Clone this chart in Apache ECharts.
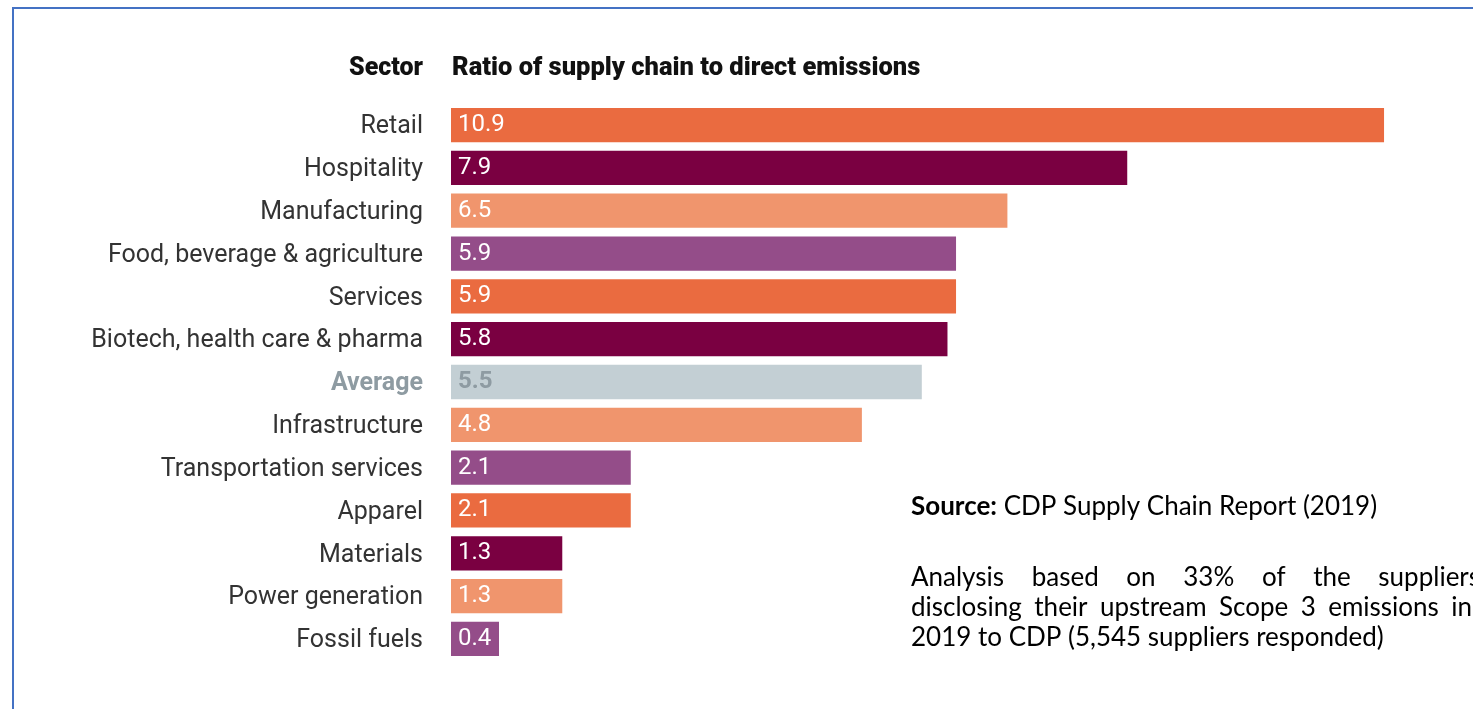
<!DOCTYPE html>
<html>
<head>
<meta charset="utf-8">
<script src="https://cdn.jsdelivr.net/npm/echarts@6/dist/echarts.min.js"></script>
<style>
html,body{margin:0;padding:0;background:#fff;}
#chart{width:1473px;height:709px;}
</style>
</head>
<body>
<div id="chart"></div>
<script>
const sectors = ["Retail","Hospitality","Manufacturing","Food, beverage & agriculture","Services","Biotech, health care & pharma","Average","Infrastructure","Transportation services","Apparel","Materials","Power generation","Fossil fuels"];
const ratios = [10.9, 7.9, 6.5, 5.9, 5.9, 5.8, 5.5, 4.8, 2.1, 2.1, 1.3, 1.3, 0.4];
const barColors = ["#EA6B40","#7A0041","#F0956D","#944D89","#EA6B40","#7A0041","#C3CFD4","#F0956D","#944D89","#EA6B40","#7A0041","#F0956D","#944D89"];
const headerSector = "Sector";
const headerRatio = "Ratio of supply chain to direct emissions";
const noteLine1 = "Analysis based on 33% of the suppliers";
const noteLine2 = "disclosing their upstream Scope 3 emissions in";
const noteLine3 = "2019 to CDP (5,545 suppliers responded)";

const chart = echarts.init(document.getElementById('chart'));
const noteFont = '26px Lato';
const graphics = [
  {type:'polyline', shape:{points:[[13,709],[13,8],[1473,8]]}, style:{stroke:'#4472C4', lineWidth:2, fill:null}},
  {type:'text', x:423, y:69, style:{text:headerSector, font:'900 25px Roboto', fill:'#111', align:'right', verticalAlign:'middle'}},
  {type:'text', x:452, y:69, style:{text:headerRatio, font:'900 25.5px Roboto', fill:'#111', align:'left', verticalAlign:'middle'}},
  {type:'text', x:911, y:507, style:{rich:{b:{font:'bold 26px Lato', fill:'#000'}, n:{font:noteFont, fill:'#000'}}, text:'{b|Source:}{n| CDP Supply Chain Report (2019)}', verticalAlign:'middle'}},
  {type:'text', x:911, y:638, style:{text:noteLine3, font:noteFont, fill:'#000', verticalAlign:'middle'}}
];
const mctx = document.createElement('canvas').getContext('2d');
mctx.font = noteFont;
function justify(line, x0, x1, y){
  const words = line.split(' ');
  const widths = words.map(w => mctx.measureText(w).width);
  const total = widths.reduce((a,b)=>a+b,0);
  const gap = (x1 - x0 - total) / (words.length - 1);
  let x = x0;
  words.forEach((w,i)=>{
    graphics.push({type:'text', x:x, y:y, style:{text:w, font:noteFont, fill:'#000', verticalAlign:'middle'}});
    x += widths[i] + gap;
  });
}
justify(noteLine1, 911, 1480, 578);
justify(noteLine2, 911, 1472, 608);

chart.setOption({
  animation:false,
  grid:{left:451, top:103.6, width:941.6, height:556.8, containLabel:false},
  xAxis:{type:'value', min:0, max:11, show:false},
  yAxis:{
    type:'category', data:sectors, inverse:true,
    axisLine:{show:false}, axisTick:{show:false},
    axisLabel:{
      margin:28, fontFamily:'Roboto', fontSize:25, color:'#333', padding:[4,0,0,0],
      formatter:(v)=> v==='Average' ? '{avg|'+v+'}' : v,
      rich:{avg:{fontFamily:'Roboto', fontSize:25, fontWeight:'bold', color:'#8E9BA2'}}
    }
  },
  series:[{
    type:'bar',
    data:ratios.map((v,i)=>({
      value:v,
      itemStyle:{color:barColors[i]},
      label: sectors[i]==='Average' ? {color:'#8E9BA2', fontWeight:'bold'} : {}
    })),
    barCategoryGap:'20%',
    barMinHeight:48,
    label:{show:true, position:'insideLeft', distance:7, fontFamily:'Roboto', fontSize:24, color:'#fff', padding:[3,0,0,0],
      formatter:(p)=>p.value.toFixed(1)}
  }],
  graphic:graphics
});
</script>
</body>
</html>
